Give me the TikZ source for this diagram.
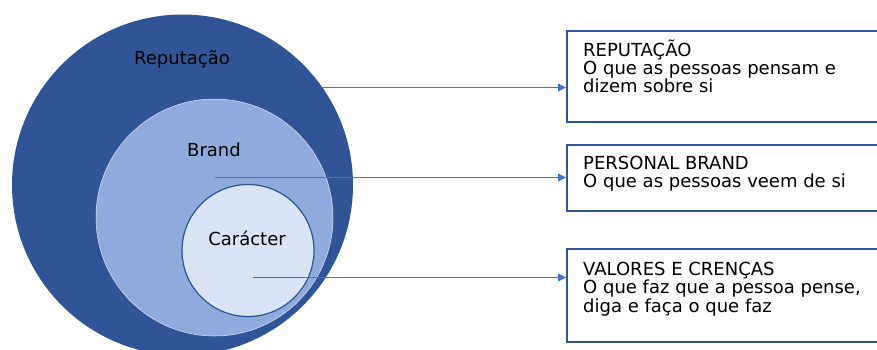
\documentclass[tikz,border=0pt]{standalone}
\usepackage{fontspec}
\setmainfont{DejaVu Sans}
\usetikzlibrary{arrows.meta}
\definecolor{darkblue}{RGB}{47,85,151}
\definecolor{midblue}{RGB}{143,170,220}
\definecolor{paleblue}{RGB}{218,227,243}
\definecolor{linkblue}{RGB}{68,114,196}
\begin{document}
\begin{tikzpicture}[x=1pt,y=-1pt,
  txt/.style={inner sep=0pt,anchor=base,font=\fontsize{18}{18}\selectfont,text=black},
  boxtxt/.style={inner sep=0pt,anchor=base west,font=\fontsize{18}{18}\selectfont,text=black},
  infobox/.style={draw=darkblue,line width=1.6pt,fill=white,rectangle,anchor=north west,inner sep=0pt},
  link/.style={draw=linkblue,line width=1pt,-{Triangle[length=8pt,width=8pt]}}]
\useasboundingbox (0,0) rectangle (877,349);
% circles
\node[circle,fill=darkblue,minimum size=341pt,inner sep=0pt] (outer) at (182.5,185) {};
\node[circle,fill=midblue,draw=white!70!midblue,line width=0.5pt,minimum size=237pt,inner sep=0pt] (middle) at (214.5,217.5) {};
\node[circle,fill=paleblue,draw=darkblue,line width=1.2pt,minimum size=132pt,inner sep=0pt] (inner) at (248,250.5) {};
% circle labels
\node[txt] (lrep) at (182,64) {Reputação};
\node[txt] (lbrand) at (214,156) {Brand};
\node[txt] (lcar) at (247,245.5) {Carácter};
% boxes
\node[infobox,minimum width=320pt,minimum height=91pt] (box1) at (566,30) {};
\node[infobox,minimum width=320pt,minimum height=66pt] (box2) at (566,144) {};
\node[infobox,minimum width=320pt,minimum height=93pt] (box3) at (566,248) {};
% box texts
\node[boxtxt] (b1a) at (583,56) {REPUTAÇÃO};
\node[boxtxt] (b1b) at (583,74.3) {O que as pessoas pensam e};
\node[boxtxt] (b1c) at (583,92.6) {dizem sobre si};
\node[boxtxt] (b2a) at (583,169.3) {PERSONAL BRAND};
\node[boxtxt] (b2b) at (583,187.7) {O que as pessoas veem de si};
\node[boxtxt] (b3a) at (583,275) {VALORES E CRENÇAS};
\node[boxtxt] (b3b) at (583,293.5) {O que faz que a pessoa pense,};
\node[boxtxt] (b3c) at (583,312) {diga e faça o que faz};
% connectors
\coordinate (s1) at (320,87.5);
\coordinate (s2) at (215,177.5);
\coordinate (s3) at (253,277.5);
\draw[link] (s1) -- (s1 -| box1.west);
\draw[link] (s2) -- (s2 -| box2.west);
\draw[link] (s3) -- (s3 -| box3.west);
\end{tikzpicture}
\end{document}
